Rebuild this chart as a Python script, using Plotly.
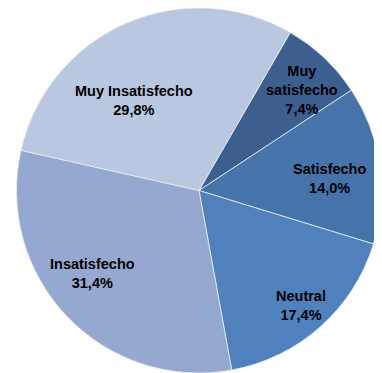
import numpy as np
import plotly.graph_objects as go

# Satisfaction categories, clockwise from the top
categorias = ["Muy satisfecho", "Satisfecho", "Neutral", "Insatisfecho", "Muy Insatisfecho"]
etiquetas = ["Muy<br>satisfecho", "Satisfecho", "Neutral", "Insatisfecho", "Muy Insatisfecho"]
porcentajes = [7.4, 14.0, 17.4, 31.4, 29.8]
colores = ["#3D5F8F", "#4674AA", "#4F81BD", "#95A8D0", "#B9C7E1"]

rotacion = 30
# label placement (fraction of radius, angle nudge in degrees), like Excel's best fit
radio_etiqueta = [0.79, 0.72, 0.84, 0.74, 0.61]
ajuste_angulo = [2.5, 3, 0, 6, -12]

W, H, L = 374, 365, 8

fig = go.Figure(go.Pie(
    labels=categorias,
    values=porcentajes,
    textinfo="none",
    marker=dict(colors=colores, line=dict(color="#E8ECF4", width=0.8)),
    sort=False,
    direction="clockwise",
    rotation=rotacion,
    hoverinfo="label+percent",
))

# place the labels at the middle angle of each slice
total = sum(porcentajes)
radio = min(W - L, H) / 2
inicio = rotacion
for etq, val, f, da in zip(etiquetas, porcentajes, radio_etiqueta, ajuste_angulo):
    medio = np.radians(inicio + val / total * 360 / 2 + da)
    inicio += val / total * 360
    fig.add_annotation(
        x=0.5 + f * np.sin(medio) * radio / (W - L),
        y=0.5 + f * np.cos(medio) * radio / H,
        xref="paper", yref="paper",
        xanchor="center", yanchor="middle",
        text="<b>%s<br>%s%%</b>" % (etq, f"{val:.1f}".replace(".", ",")),
        showarrow=False,
        font=dict(family="Liberation Sans, Arial", size=14.5, color="black"),
    )

fig.update_layout(
    width=W, height=H,
    margin=dict(l=L, r=0, t=0, b=0),
    showlegend=False,
    paper_bgcolor="white",
)

fig.write_html("out.html")
